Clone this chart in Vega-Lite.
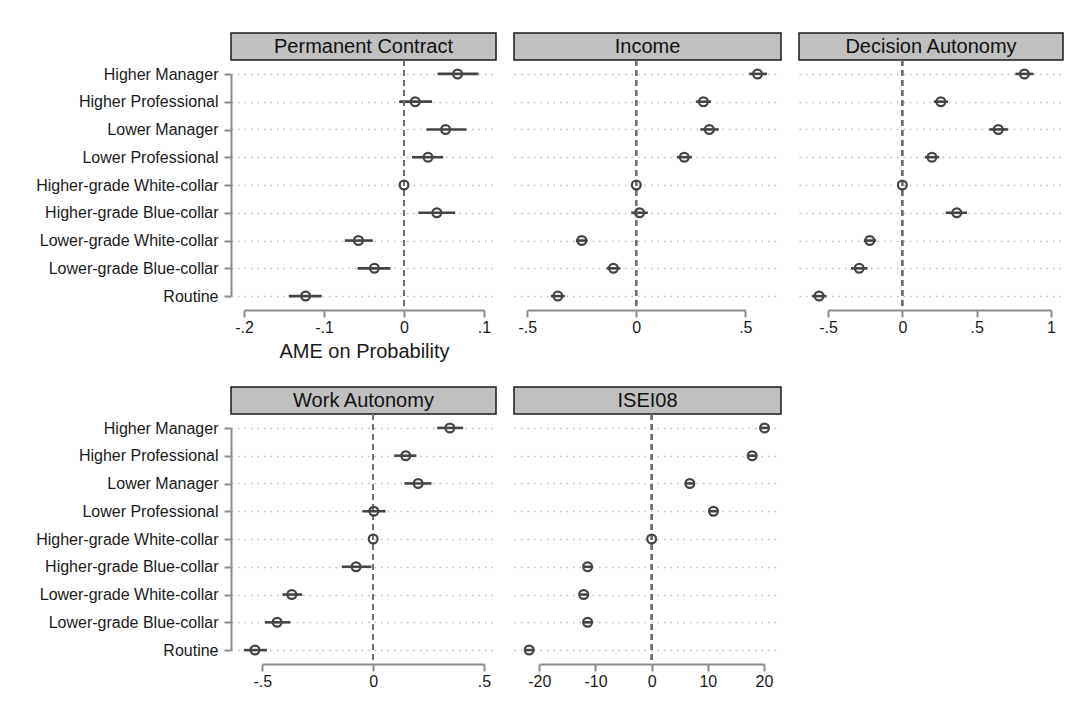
{
  "$schema": "https://vega.github.io/schema/vega-lite/v6.json",
  "padding": {"left": 35, "top": 32, "right": 10, "bottom": 10},
  "background": "white",
  "config": {
    "font": "Liberation Sans",
    "view": {"stroke": null},
    "axis": {"labelFont": "Liberation Sans", "titleFont": "Liberation Sans"}
  },
  "datasets": {
    "pc": [
      {"occ": "Higher Manager", "est": 0.067, "lo": 0.042, "hi": 0.093},
      {"occ": "Higher Professional", "est": 0.014, "lo": -0.006, "hi": 0.035},
      {"occ": "Lower Manager", "est": 0.052, "lo": 0.028, "hi": 0.078},
      {"occ": "Lower Professional", "est": 0.030, "lo": 0.010, "hi": 0.049},
      {"occ": "Higher-grade White-collar", "est": 0, "lo": 0, "hi": 0},
      {"occ": "Higher-grade Blue-collar", "est": 0.041, "lo": 0.018, "hi": 0.064},
      {"occ": "Lower-grade White-collar", "est": -0.057, "lo": -0.074, "hi": -0.039},
      {"occ": "Lower-grade Blue-collar", "est": -0.037, "lo": -0.058, "hi": -0.017},
      {"occ": "Routine", "est": -0.123, "lo": -0.144, "hi": -0.103}
    ],
    "inc": [
      {"occ": "Higher Manager", "est": 0.556, "lo": 0.518, "hi": 0.600},
      {"occ": "Higher Professional", "est": 0.308, "lo": 0.273, "hi": 0.343},
      {"occ": "Lower Manager", "est": 0.335, "lo": 0.294, "hi": 0.378},
      {"occ": "Lower Professional", "est": 0.220, "lo": 0.186, "hi": 0.255},
      {"occ": "Higher-grade White-collar", "est": 0, "lo": 0, "hi": 0},
      {"occ": "Higher-grade Blue-collar", "est": 0.015, "lo": -0.023, "hi": 0.053},
      {"occ": "Lower-grade White-collar", "est": -0.250, "lo": -0.277, "hi": -0.223},
      {"occ": "Lower-grade Blue-collar", "est": -0.105, "lo": -0.136, "hi": -0.073},
      {"occ": "Routine", "est": -0.360, "lo": -0.392, "hi": -0.328}
    ],
    "dec": [
      {"occ": "Higher Manager", "est": 0.821, "lo": 0.761, "hi": 0.882},
      {"occ": "Higher Professional", "est": 0.259, "lo": 0.212, "hi": 0.308},
      {"occ": "Lower Manager", "est": 0.645, "lo": 0.585, "hi": 0.710},
      {"occ": "Lower Professional", "est": 0.199, "lo": 0.152, "hi": 0.248},
      {"occ": "Higher-grade White-collar", "est": 0, "lo": 0, "hi": 0},
      {"occ": "Higher-grade Blue-collar", "est": 0.366, "lo": 0.292, "hi": 0.435},
      {"occ": "Lower-grade White-collar", "est": -0.219, "lo": -0.259, "hi": -0.176},
      {"occ": "Lower-grade Blue-collar", "est": -0.290, "lo": -0.346, "hi": -0.234},
      {"occ": "Routine", "est": -0.560, "lo": -0.609, "hi": -0.511}
    ],
    "wa": [
      {"occ": "Higher Manager", "est": 0.346, "lo": 0.289, "hi": 0.406},
      {"occ": "Higher Professional", "est": 0.147, "lo": 0.095, "hi": 0.195},
      {"occ": "Lower Manager", "est": 0.203, "lo": 0.141, "hi": 0.263},
      {"occ": "Lower Professional", "est": 0.003, "lo": -0.048, "hi": 0.056},
      {"occ": "Higher-grade White-collar", "est": 0, "lo": 0, "hi": 0},
      {"occ": "Higher-grade Blue-collar", "est": -0.077, "lo": -0.141, "hi": -0.008},
      {"occ": "Lower-grade White-collar", "est": -0.367, "lo": -0.409, "hi": -0.320},
      {"occ": "Lower-grade Blue-collar", "est": -0.433, "lo": -0.488, "hi": -0.374},
      {"occ": "Routine", "est": -0.533, "lo": -0.583, "hi": -0.479}
    ],
    "isei": [
      {"occ": "Higher Manager", "est": 20.1, "lo": 19.4, "hi": 20.8},
      {"occ": "Higher Professional", "est": 17.9, "lo": 17.2, "hi": 18.6},
      {"occ": "Lower Manager", "est": 6.8, "lo": 6.1, "hi": 7.5},
      {"occ": "Lower Professional", "est": 11.0, "lo": 10.3, "hi": 11.7},
      {"occ": "Higher-grade White-collar", "est": 0, "lo": 0, "hi": 0},
      {"occ": "Higher-grade Blue-collar", "est": -11.4, "lo": -12.1, "hi": -10.7},
      {"occ": "Lower-grade White-collar", "est": -12.1, "lo": -12.7, "hi": -11.4},
      {"occ": "Lower-grade Blue-collar", "est": -11.4, "lo": -12.1, "hi": -10.7},
      {"occ": "Routine", "est": -21.8, "lo": -22.5, "hi": -21.1}
    ]
  },
  "vconcat": [
    {
      "columns": 3,
      "spacing": {"row": 0, "column": 18},
      "bounds": "flush",
      "concat": [
        {
          "width": 265, "height": 27,
          "view": {"fill": "#c0c0c0", "stroke": "#1a1a1a", "strokeWidth": 1.5},
          "data": {"values": [{"t": "Permanent Contract"}]},
          "mark": {"type": "text", "fontSize": 20, "color": "#111111", "baseline": "middle", "align": "center"},
          "encoding": {"text": {"field": "t", "type": "nominal"}}
        },
        {
          "width": 267, "height": 27,
          "view": {"fill": "#c0c0c0", "stroke": "#1a1a1a", "strokeWidth": 1.5},
          "data": {"values": [{"t": "Income"}]},
          "mark": {"type": "text", "fontSize": 20, "color": "#111111", "baseline": "middle", "align": "center"},
          "encoding": {"text": {"field": "t", "type": "nominal"}}
        },
        {
          "width": 264, "height": 27,
          "view": {"fill": "#c0c0c0", "stroke": "#1a1a1a", "strokeWidth": 1.5},
          "data": {"values": [{"t": "Decision Autonomy"}]},
          "mark": {"type": "text", "fontSize": 20, "color": "#111111", "baseline": "middle", "align": "center"},
          "encoding": {"text": {"field": "t", "type": "nominal"}}
        },
        {
          "width": 265, "height": 250,
          "data": {"name": "pc"},
          "layer": [
            {
              "layer": [
                {
                  "mark": {"type": "rule", "color": "#444444", "strokeWidth": 2.6},
                  "encoding": {
                    "x": {"field": "lo", "type": "quantitative", "scale": {"domain": [-0.21625, 0.115], "nice": false, "zero": false},
                      "axis": {"values": [-0.2, -0.1, 0, 0.1], "grid": true, "gridColor": "#bdbdbd", "gridDash": [1.5, 5], "gridWidth": 1.3, "domain": false, "ticks": false, "labels": false, "title": null, "orient": "bottom"}},
                    "x2": {"field": "hi"},
                    "y": {"field": "occ", "type": "nominal", "sort": null,
                      "scale": {"type": "point", "padding": 0.5, "domain": ["Higher Manager", "Higher Professional", "Lower Manager", "Lower Professional", "Higher-grade White-collar", "Higher-grade Blue-collar", "Lower-grade White-collar", "Lower-grade Blue-collar", "Routine"]},
                      "axis": {"grid": true, "gridColor": "#bdbdbd", "gridDash": [1.5, 5], "gridWidth": 1.3, "domain": false, "ticks": false, "labels": false, "title": null, "orient": "left"}}
                  }
                },
                {
                  "mark": {"type": "rule", "color": "#6e6e6e", "strokeWidth": 1.6, "strokeDash": [6, 4]},
                  "encoding": {"x": {"datum": 0, "type": "quantitative", "scale": {"domain": [-0.21625, 0.115], "nice": false, "zero": false}, "axis": null}}
                }
              ]
            },
            {
              "mark": {"type": "point", "shape": "circle", "filled": false, "size": 78, "color": "#444444", "strokeWidth": 2.2, "opacity": 1},
              "encoding": {
                "x": {"field": "est", "type": "quantitative", "scale": {"domain": [-0.2, 0.1], "range": [13, 253], "nice": false, "zero": false},
                  "axis": {"values": [-0.2, -0.1, 0, 0.1], "labelExpr": "replace(datum.value + '', '0.', '.')", "grid": false, "domain": true, "domainColor": "#8c8c8c", "domainWidth": 2, "ticks": true, "tickColor": "#8c8c8c", "tickWidth": 2, "tickSize": 7, "labelFontSize": 16, "labelPadding": 2, "labelColor": "#1a1a1a", "labelFlush": false, "labelOverlap": false, "orient": "bottom",
                    "title": "AME on Probability", "titleFontSize": 20, "titleFontWeight": "normal", "titleColor": "#1a1a1a", "titlePadding": 6}},
                "y": {"field": "occ", "type": "nominal", "sort": null,
                  "scale": {"type": "point", "padding": 0, "range": [14, 236], "domain": ["Higher Manager", "Higher Professional", "Lower Manager", "Lower Professional", "Higher-grade White-collar", "Higher-grade Blue-collar", "Lower-grade White-collar", "Lower-grade Blue-collar", "Routine"]},
                  "axis": {"domain": true, "domainColor": "#8c8c8c", "domainWidth": 2, "ticks": true, "tickColor": "#8c8c8c", "tickWidth": 2, "tickSize": 7, "labelFontSize": 16, "labelPadding": 6, "labelLimit": 400, "labelColor": "#1a1a1a", "labelOverlap": false, "title": null, "orient": "left", "grid": false}}
              }
            }
          ],
          "resolve": {"scale": {"x": "independent", "y": "independent"}, "axis": {"x": "independent", "y": "independent"}}
        },
        {
          "width": 267, "height": 250,
          "data": {"name": "inc"},
          "layer": [
            {
              "layer": [
                {
                  "mark": {"type": "rule", "color": "#444444", "strokeWidth": 2.6},
                  "encoding": {
                    "x": {"field": "lo", "type": "quantitative", "scale": {"domain": [-0.561, 0.6638], "nice": false, "zero": false},
                      "axis": {"values": [-0.5, 0, 0.5], "grid": true, "gridColor": "#bdbdbd", "gridDash": [1.5, 5], "gridWidth": 1.3, "domain": false, "ticks": false, "labels": false, "title": null, "orient": "bottom"}},
                    "x2": {"field": "hi"},
                    "y": {"field": "occ", "type": "nominal", "sort": null,
                      "scale": {"type": "point", "padding": 0.5, "domain": ["Higher Manager", "Higher Professional", "Lower Manager", "Lower Professional", "Higher-grade White-collar", "Higher-grade Blue-collar", "Lower-grade White-collar", "Lower-grade Blue-collar", "Routine"]},
                      "axis": {"grid": true, "gridColor": "#bdbdbd", "gridDash": [1.5, 5], "gridWidth": 1.3, "domain": false, "ticks": false, "labels": false, "title": null, "orient": "left"}}
                  }
                },
                {
                  "mark": {"type": "rule", "color": "#6e6e6e", "strokeWidth": 1.6, "strokeDash": [6, 4]},
                  "encoding": {"x": {"datum": 0, "type": "quantitative", "scale": {"domain": [-0.561, 0.6638], "nice": false, "zero": false}, "axis": null}}
                }
              ]
            },
            {
              "mark": {"type": "point", "shape": "circle", "filled": false, "size": 78, "color": "#444444", "strokeWidth": 2.2, "opacity": 1},
              "encoding": {
                "x": {"field": "est", "type": "quantitative", "scale": {"domain": [-0.5, 0.5], "range": [13.3, 231.3], "nice": false, "zero": false},
                  "axis": {"values": [-0.5, 0, 0.5], "labelExpr": "replace(datum.value + '', '0.', '.')", "grid": false, "domain": true, "domainColor": "#8c8c8c", "domainWidth": 2, "ticks": true, "tickColor": "#8c8c8c", "tickWidth": 2, "tickSize": 7, "labelFontSize": 16, "labelPadding": 2, "labelColor": "#1a1a1a", "labelFlush": false, "labelOverlap": false, "orient": "bottom", "title": null}},
                "y": {"field": "occ", "type": "nominal", "sort": null,
                  "scale": {"type": "point", "padding": 0, "range": [14, 236], "domain": ["Higher Manager", "Higher Professional", "Lower Manager", "Lower Professional", "Higher-grade White-collar", "Higher-grade Blue-collar", "Lower-grade White-collar", "Lower-grade Blue-collar", "Routine"]},
                  "axis": null}
              }
            }
          ],
          "resolve": {"scale": {"x": "independent", "y": "independent"}, "axis": {"x": "independent", "y": "independent"}}
        },
        {
          "width": 264, "height": 250,
          "data": {"name": "dec"},
          "layer": [
            {
              "layer": [
                {
                  "mark": {"type": "rule", "color": "#444444", "strokeWidth": 2.6},
                  "encoding": {
                    "x": {"field": "lo", "type": "quantitative", "scale": {"domain": [-0.6951, 1.0807], "nice": false, "zero": false},
                      "axis": {"values": [-0.5, 0, 0.5, 1], "grid": true, "gridColor": "#bdbdbd", "gridDash": [1.5, 5], "gridWidth": 1.3, "domain": false, "ticks": false, "labels": false, "title": null, "orient": "bottom"}},
                    "x2": {"field": "hi"},
                    "y": {"field": "occ", "type": "nominal", "sort": null,
                      "scale": {"type": "point", "padding": 0.5, "domain": ["Higher Manager", "Higher Professional", "Lower Manager", "Lower Professional", "Higher-grade White-collar", "Higher-grade Blue-collar", "Lower-grade White-collar", "Lower-grade Blue-collar", "Routine"]},
                      "axis": {"grid": true, "gridColor": "#bdbdbd", "gridDash": [1.5, 5], "gridWidth": 1.3, "domain": false, "ticks": false, "labels": false, "title": null, "orient": "left"}}
                  }
                },
                {
                  "mark": {"type": "rule", "color": "#6e6e6e", "strokeWidth": 1.6, "strokeDash": [6, 4]},
                  "encoding": {"x": {"datum": 0, "type": "quantitative", "scale": {"domain": [-0.6951, 1.0807], "nice": false, "zero": false}, "axis": null}}
                }
              ]
            },
            {
              "mark": {"type": "point", "shape": "circle", "filled": false, "size": 78, "color": "#444444", "strokeWidth": 2.2, "opacity": 1},
              "encoding": {
                "x": {"field": "est", "type": "quantitative", "scale": {"domain": [-0.5, 1], "range": [29, 252], "nice": false, "zero": false},
                  "axis": {"values": [-0.5, 0, 0.5, 1], "labelExpr": "replace(datum.value + '', '0.', '.')", "grid": false, "domain": true, "domainColor": "#8c8c8c", "domainWidth": 2, "ticks": true, "tickColor": "#8c8c8c", "tickWidth": 2, "tickSize": 7, "labelFontSize": 16, "labelPadding": 2, "labelColor": "#1a1a1a", "labelFlush": false, "labelOverlap": false, "orient": "bottom", "title": null}},
                "y": {"field": "occ", "type": "nominal", "sort": null,
                  "scale": {"type": "point", "padding": 0, "range": [14, 236], "domain": ["Higher Manager", "Higher Professional", "Lower Manager", "Lower Professional", "Higher-grade White-collar", "Higher-grade Blue-collar", "Lower-grade White-collar", "Lower-grade Blue-collar", "Routine"]},
                  "axis": null}
              }
            }
          ],
          "resolve": {"scale": {"x": "independent", "y": "independent"}, "axis": {"x": "independent", "y": "independent"}}
        }
      ]
    },
    {
      "columns": 2,
      "spacing": {"row": 0, "column": 18},
      "bounds": "flush",
      "concat": [
        {
          "width": 265, "height": 27,
          "view": {"fill": "#c0c0c0", "stroke": "#1a1a1a", "strokeWidth": 1.5},
          "data": {"values": [{"t": "Work Autonomy"}]},
          "mark": {"type": "text", "fontSize": 20, "color": "#111111", "baseline": "middle", "align": "center"},
          "encoding": {"text": {"field": "t", "type": "nominal"}}
        },
        {
          "width": 267, "height": 27,
          "view": {"fill": "#c0c0c0", "stroke": "#1a1a1a", "strokeWidth": 1.5},
          "data": {"values": [{"t": "ISEI08"}]},
          "mark": {"type": "text", "fontSize": 20, "color": "#111111", "baseline": "middle", "align": "center"},
          "encoding": {"text": {"field": "t", "type": "nominal"}}
        },
        {
          "width": 265, "height": 250,
          "data": {"name": "wa"},
          "layer": [
            {
              "layer": [
                {
                  "mark": {"type": "rule", "color": "#444444", "strokeWidth": 2.6},
                  "encoding": {
                    "x": {"field": "lo", "type": "quantitative", "scale": {"domain": [-0.6412, 0.5541], "nice": false, "zero": false},
                      "axis": {"values": [-0.5, 0, 0.5], "grid": true, "gridColor": "#bdbdbd", "gridDash": [1.5, 5], "gridWidth": 1.3, "domain": false, "ticks": false, "labels": false, "title": null, "orient": "bottom"}},
                    "x2": {"field": "hi"},
                    "y": {"field": "occ", "type": "nominal", "sort": null,
                      "scale": {"type": "point", "padding": 0.5, "domain": ["Higher Manager", "Higher Professional", "Lower Manager", "Lower Professional", "Higher-grade White-collar", "Higher-grade Blue-collar", "Lower-grade White-collar", "Lower-grade Blue-collar", "Routine"]},
                      "axis": {"grid": true, "gridColor": "#bdbdbd", "gridDash": [1.5, 5], "gridWidth": 1.3, "domain": false, "ticks": false, "labels": false, "title": null, "orient": "left"}}
                  }
                },
                {
                  "mark": {"type": "rule", "color": "#6e6e6e", "strokeWidth": 1.6, "strokeDash": [6, 4]},
                  "encoding": {"x": {"datum": 0, "type": "quantitative", "scale": {"domain": [-0.6412, 0.5541], "nice": false, "zero": false}, "axis": null}}
                }
              ]
            },
            {
              "mark": {"type": "point", "shape": "circle", "filled": false, "size": 78, "color": "#444444", "strokeWidth": 2.2, "opacity": 1},
              "encoding": {
                "x": {"field": "est", "type": "quantitative", "scale": {"domain": [-0.5, 0.5], "range": [31.3, 253], "nice": false, "zero": false},
                  "axis": {"values": [-0.5, 0, 0.5], "labelExpr": "replace(datum.value + '', '0.', '.')", "grid": false, "domain": true, "domainColor": "#8c8c8c", "domainWidth": 2, "ticks": true, "tickColor": "#8c8c8c", "tickWidth": 2, "tickSize": 7, "labelFontSize": 16, "labelPadding": 2, "labelColor": "#1a1a1a", "labelFlush": false, "labelOverlap": false, "orient": "bottom", "title": null}},
                "y": {"field": "occ", "type": "nominal", "sort": null,
                  "scale": {"type": "point", "padding": 0, "range": [14, 236], "domain": ["Higher Manager", "Higher Professional", "Lower Manager", "Lower Professional", "Higher-grade White-collar", "Higher-grade Blue-collar", "Lower-grade White-collar", "Lower-grade Blue-collar", "Routine"]},
                  "axis": {"domain": true, "domainColor": "#8c8c8c", "domainWidth": 2, "ticks": true, "tickColor": "#8c8c8c", "tickWidth": 2, "tickSize": 7, "labelFontSize": 16, "labelPadding": 6, "labelLimit": 400, "labelColor": "#1a1a1a", "labelOverlap": false, "title": null, "orient": "left", "grid": false}}
              }
            }
          ],
          "resolve": {"scale": {"x": "independent", "y": "independent"}, "axis": {"x": "independent", "y": "independent"}}
        },
        {
          "width": 267, "height": 250,
          "data": {"name": "isei"},
          "layer": [
            {
              "layer": [
                {
                  "mark": {"type": "rule", "color": "#444444", "strokeWidth": 2.6},
                  "encoding": {
                    "x": {"field": "lo", "type": "quantitative", "scale": {"domain": [-24.504, 23.026], "nice": false, "zero": false},
                      "axis": {"values": [-20, -10, 0, 10, 20], "grid": true, "gridColor": "#bdbdbd", "gridDash": [1.5, 5], "gridWidth": 1.3, "domain": false, "ticks": false, "labels": false, "title": null, "orient": "bottom"}},
                    "x2": {"field": "hi"},
                    "y": {"field": "occ", "type": "nominal", "sort": null,
                      "scale": {"type": "point", "padding": 0.5, "domain": ["Higher Manager", "Higher Professional", "Lower Manager", "Lower Professional", "Higher-grade White-collar", "Higher-grade Blue-collar", "Lower-grade White-collar", "Lower-grade Blue-collar", "Routine"]},
                      "axis": {"grid": true, "gridColor": "#bdbdbd", "gridDash": [1.5, 5], "gridWidth": 1.3, "domain": false, "ticks": false, "labels": false, "title": null, "orient": "left"}}
                  }
                },
                {
                  "mark": {"type": "rule", "color": "#6e6e6e", "strokeWidth": 1.6, "strokeDash": [6, 4]},
                  "encoding": {"x": {"datum": 0, "type": "quantitative", "scale": {"domain": [-24.504, 23.026], "nice": false, "zero": false}, "axis": null}}
                }
              ]
            },
            {
              "mark": {"type": "point", "shape": "circle", "filled": false, "size": 78, "color": "#444444", "strokeWidth": 2.2, "opacity": 1},
              "encoding": {
                "x": {"field": "est", "type": "quantitative", "scale": {"domain": [-20, 20], "range": [25.3, 250], "nice": false, "zero": false},
                  "axis": {"values": [-20, -10, 0, 10, 20], "labelExpr": "replace(datum.value + '', '0.', '.')", "grid": false, "domain": true, "domainColor": "#8c8c8c", "domainWidth": 2, "ticks": true, "tickColor": "#8c8c8c", "tickWidth": 2, "tickSize": 7, "labelFontSize": 16, "labelPadding": 2, "labelColor": "#1a1a1a", "labelFlush": false, "labelOverlap": false, "orient": "bottom", "title": null}},
                "y": {"field": "occ", "type": "nominal", "sort": null,
                  "scale": {"type": "point", "padding": 0, "range": [14, 236], "domain": ["Higher Manager", "Higher Professional", "Lower Manager", "Lower Professional", "Higher-grade White-collar", "Higher-grade Blue-collar", "Lower-grade White-collar", "Lower-grade Blue-collar", "Routine"]},
                  "axis": null}
              }
            }
          ],
          "resolve": {"scale": {"x": "independent", "y": "independent"}, "axis": {"x": "independent", "y": "independent"}}
        }
      ]
    }
  ],
  "spacing": 25
}
